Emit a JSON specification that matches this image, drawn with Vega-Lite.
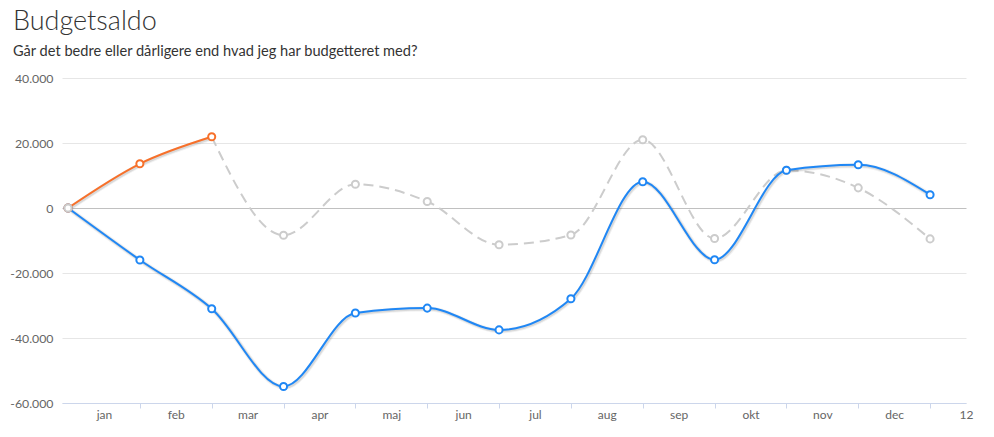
{
  "$schema": "https://vega.github.io/schema/vega-lite/v6.json",
  "width": 904,
  "height": 325,
  "autosize": {"type": "none"},
  "padding": {"left": 62, "top": 78, "right": 28, "bottom": 34},
  "background": "white",
  "title": {
    "text": "Budgetsaldo",
    "subtitle": "Går det bedre eller dårligere end hvad jeg har budgetteret med?",
    "anchor": "start",
    "frame": "group",
    "font": "Lato",
    "fontSize": 27,
    "fontWeight": 300,
    "color": "#333333",
    "subtitleFont": "Lato",
    "subtitleFontSize": 14.6,
    "subtitleColor": "#333333",
    "subtitlePadding": 8,
    "offset": 12,
    "dx": -49
  },
  "config": {"view": {"stroke": null}},
  "data": {
    "values": [
      {"m": 0, "s": "blue", "v": 0},
      {"m": 1, "s": "blue", "v": -16000},
      {"m": 2, "s": "blue", "v": -31000},
      {"m": 3, "s": "blue", "v": -54900},
      {"m": 4, "s": "blue", "v": -32300},
      {"m": 5, "s": "blue", "v": -30800},
      {"m": 6, "s": "blue", "v": -37500},
      {"m": 7, "s": "blue", "v": -27900},
      {"m": 8, "s": "blue", "v": 8100},
      {"m": 9, "s": "blue", "v": -15900},
      {"m": 10, "s": "blue", "v": 11600},
      {"m": 11, "s": "blue", "v": 13300},
      {"m": 12, "s": "blue", "v": 4100},
      {"m": 0, "s": "orange", "v": 0},
      {"m": 1, "s": "orange", "v": 13600},
      {"m": 2, "s": "orange", "v": 21900},
      {"m": 0, "s": "gray", "v": 0},
      {"m": 2, "s": "gray", "v": 21900},
      {"m": 3, "s": "gray", "v": -8400},
      {"m": 4, "s": "gray", "v": 7300},
      {"m": 5, "s": "gray", "v": 2000},
      {"m": 6, "s": "gray", "v": -11300},
      {"m": 7, "s": "gray", "v": -8300},
      {"m": 8, "s": "gray", "v": 21000},
      {"m": 9, "s": "gray", "v": -9400},
      {"m": 10, "s": "gray", "v": 11600},
      {"m": 11, "s": "gray", "v": 6200},
      {"m": 12, "s": "gray", "v": -9500}
    ]
  },
  "encoding": {
    "x": {
      "field": "m",
      "type": "quantitative",
      "scale": {"domain": [-0.084, 12.5], "nice": false, "zero": false},
      "axis": {
        "title": null,
        "grid": false,
        "values": [0, 0.5, 1, 1.5, 2, 2.5, 3, 3.5, 4, 4.5, 5, 5.5, 6, 6.5, 7, 7.5, 8, 8.5, 9, 9.5, 10, 10.5, 11, 11.5, 12, 12.5],
        "domainColor": "#ccd6eb",
        "tickColor": "#ccd6eb",
        "tickSize": 5,
        "tickOpacity": {"condition": {"test": "datum.value % 1 !== 0 || datum.value === 0", "value": 0}, "value": 1},
        "labelExpr": "datum.value % 1 === 0 ? '' : (datum.value === 12.5 ? '12' : ['jan','feb','mar','apr','maj','jun','jul','aug','sep','okt','nov','dec'][floor(datum.value)])",
        "labelFlush": false,
        "labelOverlap": false,
        "labelPadding": 1,
        "labelFont": "Lato",
        "labelFontSize": 12,
        "labelColor": "#666666"
      }
    },
    "y": {
      "field": "v",
      "type": "quantitative",
      "scale": {"domain": [-60000, 40000], "nice": false},
      "axis": {
        "title": null,
        "domain": false,
        "ticks": false,
        "values": [-60000, -40000, -20000, 0, 20000, 40000],
        "gridColor": {"condition": {"test": "datum.value === 0", "value": "#c0c0c0"}, "value": "#e6e6e6"},
        "labelExpr": "(datum.value < 0 ? '-' : '') + replace(format(abs(datum.value), ','), ',', '.')",
        "labelPadding": 9,
        "labelFont": "Lato",
        "labelFontSize": 12.3,
        "labelColor": "#666666"
      }
    }
  },
  "layer": [
    {
      "transform": [{"filter": "datum.s === 'gray' && datum.m >= 2"}],
      "mark": {"type": "line", "interpolate": "monotone", "color": "#cccccc", "strokeWidth": 2, "strokeDash": [10, 6]}
    },
    {
      "transform": [{"filter": "datum.s === 'gray' && datum.m >= 3"}],
      "mark": {"type": "circle", "size": 50, "fill": "white", "stroke": "#cccccc", "strokeWidth": 2, "opacity": 1}
    },
    {
      "transform": [{"filter": "datum.s === 'blue'"}],
      "mark": {"type": "line", "interpolate": "monotone", "color": "#000000", "opacity": 0.05, "strokeWidth": 5, "xOffset": 1, "yOffset": 1}
    },
    {
      "transform": [{"filter": "datum.s === 'blue'"}],
      "mark": {"type": "line", "interpolate": "monotone", "color": "#000000", "opacity": 0.1, "strokeWidth": 3, "xOffset": 1, "yOffset": 1}
    },
    {
      "transform": [{"filter": "datum.s === 'blue'"}],
      "mark": {"type": "line", "interpolate": "monotone", "color": "#1f87f5", "strokeWidth": 2}
    },
    {
      "transform": [{"filter": "datum.s === 'blue'"}],
      "mark": {"type": "circle", "size": 50, "fill": "white", "stroke": "#1f87f5", "strokeWidth": 2, "opacity": 1}
    },
    {
      "transform": [{"filter": "datum.s === 'orange'"}],
      "mark": {"type": "line", "interpolate": "monotone", "color": "#000000", "opacity": 0.05, "strokeWidth": 5, "xOffset": 1, "yOffset": 1}
    },
    {
      "transform": [{"filter": "datum.s === 'orange'"}],
      "mark": {"type": "line", "interpolate": "monotone", "color": "#000000", "opacity": 0.1, "strokeWidth": 3, "xOffset": 1, "yOffset": 1}
    },
    {
      "transform": [{"filter": "datum.s === 'orange'"}],
      "mark": {"type": "line", "interpolate": "monotone", "color": "#f7702a", "strokeWidth": 2}
    },
    {
      "transform": [{"filter": "datum.s === 'orange'"}],
      "mark": {"type": "circle", "size": 50, "fill": "white", "stroke": "#f7702a", "strokeWidth": 2, "opacity": 1}
    },
    {
      "transform": [{"filter": "datum.s === 'gray' && datum.m === 0"}],
      "mark": {"type": "circle", "size": 50, "fill": "white", "stroke": "#cccccc", "strokeWidth": 2, "opacity": 1}
    }
  ]
}
